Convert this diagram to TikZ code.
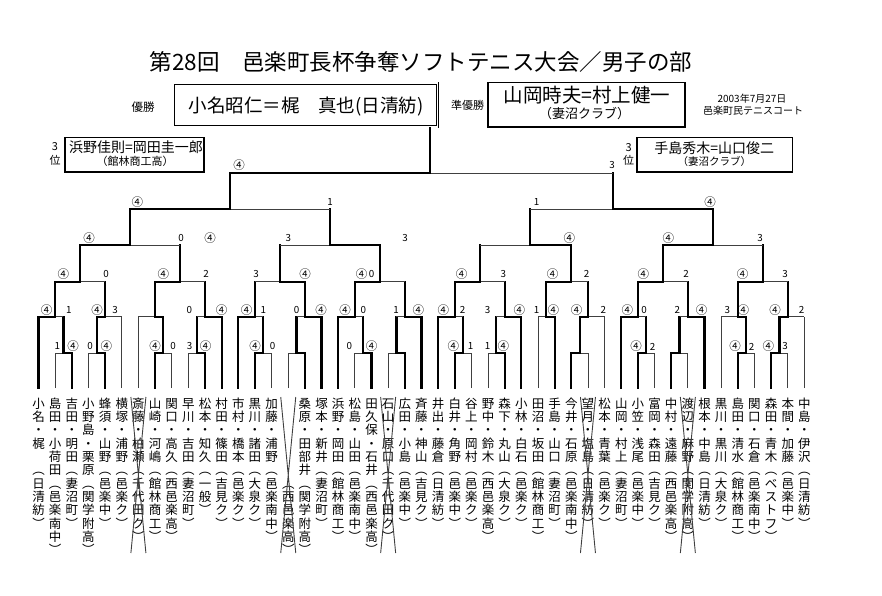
\documentclass[tikz,border=0pt]{standalone}
\usepackage{fontspec}
\setmainfont{Noto Sans CJK JP}
\tikzset{
  thinline/.style={draw=black!75, line width=0.9pt},
  winline/.style={draw=black, line width=2.2pt, line cap=rect},
  score/.style={font=\fontsize{9.8}{9.8}\selectfont, inner sep=0pt},
  namecol/.style={font=\fontsize{12.5}{13.33}\selectfont, inner sep=0pt, anchor=north, align=center},
  resultbox/.style={draw=black, line width=1.8pt, inner sep=0pt},
  champbox/.style={draw=black, double, double distance=1.6pt, line width=0.8pt, inner sep=0pt},
}
% x of player column #1 (fractions for midpoints)
\newcommand\pX[1]{38.5+(#1-1)*16.65}
\newcommand\vstrut{\rule[-2.33pt]{0pt}{13.33pt}}
\newcommand\ci{{\fontsize{11.5}{11.5}\selectfont ④}}
\def\vstack#1{\vstackA#1\relax}
\def\vstackA#1{\ifx#1\relax\else\vstrut#1\\\expandafter\vstackA\fi}
% one bout: left, right, up point, level, next level, winner side
\newcommand\bout[6]{%
  \draw[thinline] ({\pX{#1}},#4) -- ({\pX{#2}},#4);
  \if L#6
    \draw[winline] ({\pX{#1}},#4) -- ({\pX{#3}},#4) -- ({\pX{#3}},#5);
  \else
    \draw[winline] ({\pX{#2}},#4) -- ({\pX{#3}},#4) -- ({\pX{#3}},#5);
  \fi}
\def\yFoot{388}\def\yA{353.3}\def\yB{316.7}\def\yC{281.7}
\def\yD{245}\def\yE{209}\def\yF{173.3}\def\yTop{128}

\begin{document}
\begin{tikzpicture}[x=1pt,y=-1pt]
\useasboundingbox (0,0) rectangle (882,596);
\fill[white] (0,0) rectangle (882,596);

%title
\node[font=\fontsize{22.5}{24}\selectfont] (title) at (421,61.7) {第28回　邑楽町長杯争奪ソフトテニス大会／男子の部};

%winner and runner-up
\node[font=\fontsize{11.5}{12}\selectfont] (wlabel) at (143,106.7) {優勝};
\node[champbox, minimum width=264.3pt, minimum height=43.6pt] (champ) at (305.25,105.1) {};
\node[font=\fontsize{18.5}{20}\selectfont] (champname) at (306,106.7) {小名昭仁＝梶　真也(日清紡)};
\node[font=\fontsize{11}{12}\selectfont] (rlabel) at (467.7,105.7) {準優勝};
\node[resultbox, minimum width=197.2pt, minimum height=44.8pt] (runner) at (586.5,105) {};
\node[font=\fontsize{19.5}{20}\selectfont] (runnername) at (587,95) {山岡時夫=村上健一};
\node[font=\fontsize{13}{14}\selectfont] (runnerclub) at (584.5,113.3) {（妻沼クラブ）};
\node[font=\fontsize{10}{11}\selectfont] (date) at (752,98.3) {2003年7月27日};
\node[font=\fontsize{10}{11}\selectfont] (place) at (753,111) {邑楽町民テニスコート};

%third places
\node[resultbox, minimum width=138.9pt, minimum height=34.2pt] (thirdL) at (134.65,154.7) {};
\node[font=\fontsize{11}{12}\selectfont] (thirdLa) at (55,146.7) {3};
\node[font=\fontsize{11}{12}\selectfont] (thirdLb) at (55,160.7) {位};
\node[font=\fontsize{14}{15}\selectfont] (thirdLname) at (136,146.7) {浜野佳則=岡田圭一郎};
\node[font=\fontsize{11}{12}\selectfont] (thirdLclub) at (135,161.7) {（館林商工高）};
\node[resultbox, minimum width=155.5pt, minimum height=34.2pt] (thirdR) at (714.65,154.7) {};
\node[font=\fontsize{11}{12}\selectfont] (thirdRa) at (628.7,147.3) {3};
\node[font=\fontsize{11}{12}\selectfont] (thirdRb) at (628.7,160.7) {位};
\node[font=\fontsize{14}{15}\selectfont] (thirdRname) at (714.3,148.3) {手島秀木=山口俊二};
\node[font=\fontsize{10.5}{11}\selectfont] (thirdRclub) at (714.3,162) {（妻沼クラブ）};

%players
\foreach \p/\t in {1/小名・梶　︵日清紡︶, 2/島田・小荷田︵邑楽南中︶, 3/吉田・明田︵妻沼町︶,
  4/小野島・栗原︵関学附高︶, 5/蜂須・山野︵邑楽中︶, 6/横塚・浦野︵邑楽ク︶, 7/斎藤・柏瀬︵千代田ク︶,
  8/山崎・河嶋︵館林商工︶, 9/関口・高久︵西邑楽高︶, 10/早川・吉田︵妻沼町︶, 11/松本・知久︵一般︶,
  12/村田・篠田︵吉見ク︶, 13/市村・橋本︵邑楽ク︶, 14/黒川・諸田︵大泉ク︶, 15/加藤・浦野︵邑楽南中︶,
  16/　　　　　　︵西邑楽高︶, 17/桑原・田部井︵関学附高︶, 18/塚本・新井︵妻沼町︶, 19/浜野・岡田︵館林商工︶,
  20/松島・山田︵邑楽南中︶, 21/田久保・石井︵西邑楽高︶, 22/石山・原口︵千代田ク︶, 23/広田・小島︵邑楽中︶,
  24/斉藤・神山︵吉見ク︶, 25/井出・藤倉︵日清紡︶, 26/白井・角野︵邑楽中︶, 27/谷上・岡村︵邑楽ク︶,
  28/野中・鈴木︵西邑楽高︶, 29/森下・丸山︵大泉ク︶, 30/小林・白石︵邑楽ク︶, 31/田沼・坂田︵館林商工︶,
  32/手島・山口︵妻沼町︶, 33/今井・石原︵邑楽南中︶, 34/望月・塩島︵日清紡︶, 35/松本・青葉︵邑楽ク︶,
  36/山岡・村上︵妻沼町︶, 37/小笠・浅尾︵邑楽中︶, 38/富岡・森田︵吉見ク︶, 39/中村・遠藤︵西邑楽高︶,
  40/渡辺・麻野︵関学附高︶, 41/根本・中島︵日清紡︶, 42/黒川・黒川︵大泉ク︶, 43/島田・清水︵館林商工︶,
  44/関口・石倉︵邑楽南中︶, 45/森田・青木︵ベストフ︶, 46/本間・加藤︵邑楽中︶, 47/中島・伊沢︵日清紡︶}
  \node[namecol] (p\p) at ({\pX{\p}},397) {\expandafter\vstack\expandafter{\t}};

%withdrawn pairs
\foreach \p in {7,16,22,34,40}
  \draw[thinline] ({\pX{\p}-7.5},397) -- ({\pX{\p}+7.5},553)
                  ({\pX{\p}+7.5},397) -- ({\pX{\p}-7.5},553);

%lines up from the players
\foreach \p/\y/\w in {1/\yB/1, 2/\yA/0, 3/\yA/1, 4/\yA/0, 5/\yA/1, 6/\yB/0, 7/\yB/0, 8/\yA/1,
  9/\yA/0, 10/\yA/0, 11/\yA/1, 12/\yB/1, 13/\yB/1, 14/\yA/1, 15/\yA/0, 16/\yA/0, 17/\yA/1,
  18/\yB/1, 19/\yB/1, 20/\yA/0, 21/\yA/1, 22/\yA/0, 23/\yA/1, 24/\yB/1, 25/\yB/1, 26/\yA/1,
  27/\yA/0, 28/\yA/0, 29/\yA/1, 30/\yB/1, 31/\yB/0, 32/\yB/1, 33/\yA/1, 34/\yA/0, 35/\yB/0,
  36/\yB/1, 37/\yA/1, 38/\yA/0, 39/\yA/1, 40/\yA/0, 41/\yB/1, 42/\yB/0, 43/\yA/1, 44/\yA/0,
  45/\yA/1, 46/\yA/0, 47/\yB/0}
{
  \coordinate (foot\p) at ({\pX{\p}},\yFoot);
  \ifnum\w=1 \draw[winline] (foot\p) -- ({\pX{\p}},\y);
  \else \draw[thinline] (foot\p) -- ({\pX{\p}},\y); \fi
}

%bouts
\foreach \l/\r/\u/\y/\t/\w in {
  2/3/2.5/\yA/\yB/R, 4/5/4.5/\yA/\yB/R, 8/9/8.5/\yA/\yB/L, 10/11/10.5/\yA/\yB/R,
  14/15/14.5/\yA/\yB/L, 16/17/16.5/\yA/\yB/R, 20/21/20.5/\yA/\yB/R, 22/23/22.5/\yA/\yB/R,
  26/27/26.5/\yA/\yB/L, 28/29/28.5/\yA/\yB/R, 33/34/33.5/\yA/\yB/L, 37/38/37.5/\yA/\yB/L,
  39/40/39.5/\yA/\yB/L, 43/44/43.5/\yA/\yB/L, 45/46/45.5/\yA/\yB/L,
  1/2.5/2/\yB/\yC/L, 4.5/6/5/\yB/\yC/L, 7/8.5/8/\yB/\yC/R, 10.5/12/11/\yB/\yC/R,
  13/14.5/14/\yB/\yC/L, 16.5/18/17/\yB/\yC/R, 19/20.5/20/\yB/\yC/L, 22.5/24/23/\yB/\yC/R,
  25/26.5/26/\yB/\yC/L, 28.5/30/29/\yB/\yC/R, 31/32/31.5/\yB/\yC/R, 33.5/35/34/\yB/\yC/L,
  36/37.5/37/\yB/\yC/L, 39.5/41/40/\yB/\yC/R, 42/43.5/43/\yB/\yC/R, 45.5/47/46/\yB/\yC/L,
  2/5/3.5/\yC/\yD/L, 8/11/9.5/\yC/\yD/L, 14/17/15.5/\yC/\yD/R, 20/23/21.5/\yC/\yD/L,
  26/29/27.5/\yC/\yD/L, 31.5/34/33/\yC/\yD/L, 37/40/38.5/\yC/\yD/L, 43/46/44.5/\yC/\yD/L,
  3.5/9.5/6.5/\yD/\yE/L, 15.5/21.5/18.5/\yD/\yE/R, 27.5/33/30.5/\yD/\yE/R, 38.5/44.5/41.5/\yD/\yE/L,
  6.5/18.5/12.5/\yE/\yF/L, 30.5/41.5/35.5/\yE/\yF/R,
  12.5/35.5/24.5/\yF/\yTop/L}
  \bout{\l}{\r}{\u}{\y}{\t}{\w};

%scores
\foreach \s/\x [count=\i] in {\ci/239, 3/612}
  \node[score] (sF\i) at (\x,165) {\s};
\foreach \s/\x [count=\i] in {\ci/137.3, 1/330, 1/536.7, \ci/710}
  \node[score] (sE\i) at (\x,201.7) {\s};
\foreach \s/\x [count=\i] in {\ci/89, 0/181, \ci/210, 3/288.3, 3/405, \ci/569.3, \ci/668.3, 3/760}
  \node[score] (sD\i) at (\x,238.3) {\s};
\foreach \s/\x [count=\i] in {\ci/63.3, 0/106, \ci/163.3, 2/206, 3/256, \ci/305, \ci/361.7, 0/371.7,
  \ci/461.7, 3/503.3, \ci/552.7, 2/586.7, \ci/643.3, 2/686, \ci/742.7, 3/785}
  \node[score] (sC\i) at (\x,274.3) {\s};
\foreach \s/\x [count=\i] in {\ci/46.5, 1/68.8, \ci/97.2, 3/115, 0/189.3, \ci/221.7, \ci/246.7, 1/263.3,
  0/296.7, \ci/321, \ci/345, 0/363.3, 1/396, \ci/418.3, \ci/443.3, 2/462.7, 3/487.7, \ci/519.3,
  1/536.7, \ci/553.3, \ci/576.7, 2/603.3, \ci/627.3, 0/644, 2/677.3, \ci/701.7, 3/727.3, \ci/743.3,
  \ci/775, 2/801.7}
  \node[score] (sB\i) at (\x,310) {\s};
\foreach \s/\x [count=\i] in {1/57.3, \ci/73, 0/90, \ci/106.3, \ci/155, 0/173, 3/189.6, \ci/205.5,
  \ci/255, 0/272.7, 0/349.3, \ci/371.7, \ci/453.3, 1/470.7, 1/487.7, \ci/503.3, \ci/636, 2/652.7,
  \ci/735, 2/751.7, \ci/768.3, 3/785}
  \node[score] (sA\i) at (\x,346.5) {\s};
\end{tikzpicture}
\end{document}
